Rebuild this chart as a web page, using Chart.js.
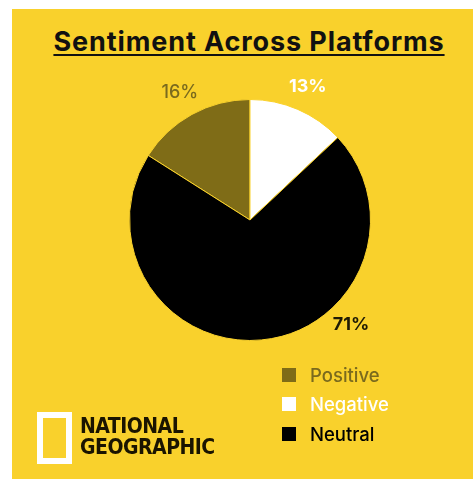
<!DOCTYPE html>
<html>
<head>
<meta charset="utf-8">
<script src="https://cdn.jsdelivr.net/npm/chart.js@4.4.1/dist/chart.umd.min.js"></script>
<style>
  body { margin: 0; background: #ffffff; width: 473px; height: 479px; overflow: hidden; font-family: Inter, "Noto Sans", sans-serif; }
  .card { position: absolute; left: 12px; top: 9px; width: 461px; height: 470px; background: #f9d12c; }
  .card h1 { position: absolute; left: 0; width: 474px; top: 16px; margin: 0; text-align: center; font-size: 27px; font-weight: 700; color: #111; text-decoration: underline; text-decoration-thickness: 2px; text-underline-offset: 3px; letter-spacing: 0.9px; }
  #chartBox { position: absolute; left: 0; top: 0; width: 461px; height: 470px; }
  .legend { position: absolute; left: 270px; top: 351px; }
  .legend div { height: 29.5px; display: flex; align-items: center; font-size: 18.5px; font-weight: 500; }
  .legend span.sw { width: 14px; height: 14px; margin-right: 14px; display: inline-block; }
  .logo { position: absolute; left: 25px; top: 403px; width: 35px; height: 52px; box-sizing: border-box; border: 6px solid #fff; }
  .brand { position: absolute; left: 68px; top: 407px; font-family: "Liberation Sans Narrow", "DejaVu Sans Condensed", sans-serif; font-weight: 700; font-size: 21px; line-height: 21px; color: #1a1400; letter-spacing: -0.5px; }
</style>
</head>
<body>
<div class="card">
  <h1>Sentiment Across Platforms</h1>
  <div id="chartBox"><canvas id="myChart"></canvas></div>
  <div class="legend" id="legend"></div>
  <div class="logo"></div>
  <div class="brand">NATIONAL<br>GEOGRAPHIC</div>
</div>
<script>
const categories = ["Positive", "Negative", "Neutral"];
const shares = [16, 13, 71];
const sliceColors = ["#7f6c17", "#ffffff", "#000000"];
const labelColors = ["#7a6a1e", "#ffffff", "#1e1a05"];

// label angle override for the big slice (degrees from 12 o'clock)
const labelAngleOverride = { 2: 136 };

const outsideLabels = {
  id: "outsideLabels",
  afterDatasetsDraw(chart) {
    const ctx = chart.ctx;
    const meta = chart.getDatasetMeta(0);
    meta.data.forEach((arc, i) => {
      const p = arc.getProps(["x", "y", "startAngle", "endAngle", "outerRadius"], true);
      let angle = (p.startAngle + p.endAngle) / 2;
      if (labelAngleOverride[i] !== undefined) {
        angle = (labelAngleOverride[i] - 90) * Math.PI / 180;
      }
      const dist = p.outerRadius + 25;
      const x = p.x + Math.cos(angle) * dist;
      const y = p.y + Math.sin(angle) * dist;
      ctx.save();
      ctx.fillStyle = labelColors[i];
      ctx.font = (i === 0 ? "500" : "700") + " 18px Inter, sans-serif";
      ctx.textAlign = "center";
      ctx.textBaseline = "middle";
      ctx.fillText(shares[i] + "%", x, y);
      ctx.restore();
    });
  },
};

function buildLegend() {
  const legend = document.getElementById("legend");
  categories.forEach((name, i) => {
    const row = document.createElement("div");
    row.style.color = labelColors[i] === "#1e1a05" ? "#000" : labelColors[i];
    const sw = document.createElement("span");
    sw.className = "sw";
    sw.style.background = sliceColors[i];
    row.appendChild(sw);
    row.appendChild(document.createTextNode(name));
    legend.appendChild(row);
  });
}

function createPie() {
  const ctx = document.getElementById("myChart").getContext("2d");
  new Chart(ctx, {
    type: "pie",
    data: {
      labels: categories,
      datasets: [
        {
          data: shares,
          backgroundColor: sliceColors,
          borderColor: "#f9d12c",
          borderWidth: 1,
        },
      ],
    },
    options: {
      responsive: true,
      maintainAspectRatio: false,
      animation: false,
      rotation: -shares[0] * 3.6,
      layout: { padding: { left: 117, right: 102, top: 90, bottom: 138 } },
      plugins: {
        legend: { display: false },
        tooltip: { enabled: false },
      },
    },
    plugins: [outsideLabels],
  });
}

document.addEventListener("DOMContentLoaded", () => {
  buildLegend();
  createPie();
});
</script>
</body>
</html>
